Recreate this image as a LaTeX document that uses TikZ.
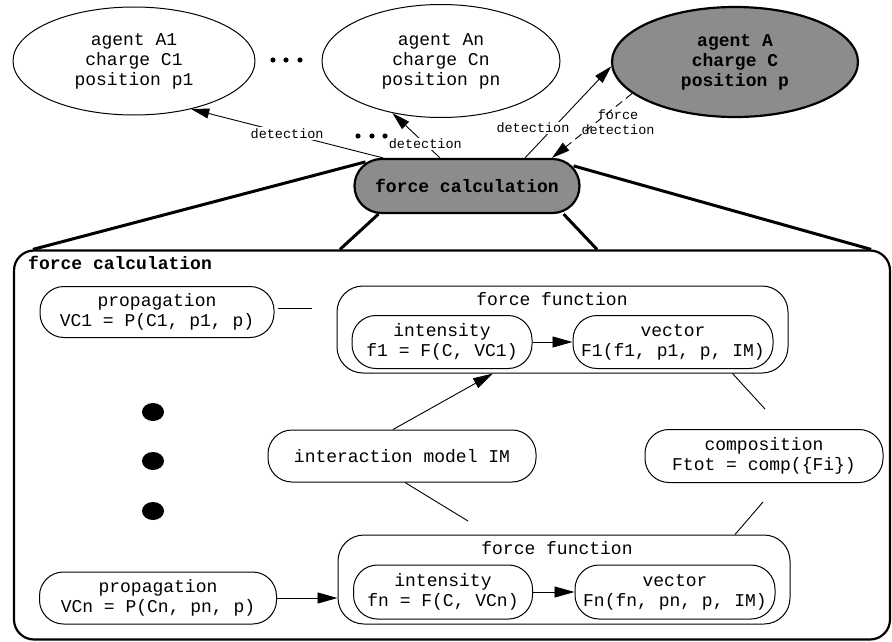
\documentclass[tikz,border=0pt]{standalone}
\usepackage{fontspec}
\newfontfamily\cour{Liberation Mono}
\usetikzlibrary{shapes.geometric,arrows.meta,calc}
\begin{document}
\begin{tikzpicture}[x=1pt,y=-1pt,
  every node/.style={font=\cour\fontsize{18}{20}\selectfont, align=center, inner sep=0pt},
  rbox/.style={draw, line width=1pt, rounded corners=24pt, minimum height=52pt},
  fbox/.style={draw, line width=1pt, rounded corners=26pt},
  agent/.style={draw, ellipse, line width=1pt},
  darkfill/.style={draw, line width=2.2pt, fill=black!45, font=\cour\bfseries\fontsize{18}{20}\selectfont},
  lbl/.style={font=\cour\fontsize{13.5}{15}\selectfont, inner sep=1.5pt},
  arr/.style={-{Triangle[length=18pt,width=10pt]}, line width=0.9pt},
  iarr/.style={-{Triangle[length=20pt,width=11pt]}, line width=0.9pt},
  thin/.style={line width=0.9pt},
  thickline/.style={line width=3pt},
  bigdot/.style={fill=black}
]
\useasboundingbox (0,0) rectangle (892,642);

% big box
\node[draw, line width=2.2pt, rounded corners=20pt, minimum width=876pt, minimum height=389pt] (big) at (452,445) {};
\node[anchor=west, font=\cour\bfseries\fontsize{18}{20}\selectfont] (bigl) at (28,263) {force calculation};

% top agents
\node[agent, minimum width=242pt, minimum height=108pt] (A1) at (134,61) {agent A1\\charge C1\\position p1};
\node[agent, minimum width=238pt, minimum height=113pt] (An) at (441,61) {agent An\\charge Cn\\position pn};
\node[darkfill, ellipse, minimum width=246pt, minimum height=110pt] (A) at (735,62) {agent A\\charge C\\position p};

% force calculation (collapsed)
\node[darkfill, rounded corners=27pt, minimum width=225pt, minimum height=54pt] (fc) at (467,186) {force calculation};

% small dots
\foreach \x in {273,286,300} \fill (\x,60) circle (2.6pt);
\foreach \x in {358,372,385} \fill (\x,136) circle (2.6pt);

% thick zoom lines
\draw[thickline] ([xshift=12pt,yshift=-4pt]fc.north west) -- ([xshift=20pt]big.north west);
\draw[thickline] ([xshift=-7pt,yshift=-8pt]fc.north east) -- ([xshift=-20pt]big.north east);
\draw[thickline] ([xshift=25pt]fc.south west) -- ([xshift=-112pt]big.north);
\draw[thickline] ([xshift=-17pt]fc.south east) -- ([xshift=145pt]big.north);

% detection arrows
\draw[arr] ([xshift=-84pt]fc.north) -- node[lbl, fill=white, pos=0.5] {detection} (A1.-40);
\draw[arr] ([xshift=-27pt]fc.north) -- node[lbl, fill=white, pos=0.31] {detection} (An.227);
\draw[arr] ([xshift=58pt]fc.north) -- (A.182);
\node[lbl, fill=white] (dl3) at (533,128) {detection};
\draw[arr, dash pattern=on 8pt off 5pt] (A.197) -- ([xshift=85pt]fc.north);
\node[lbl, font=\cour\fontsize{13.5}{15}\selectfont] (fdl) at (618,122) {force\\detection};

% inner nodes
\node[rbox, minimum width=234pt, minimum height=51pt] (p1) at (157,312) {propagation\\VC1 = P(C1, p1, p)};
\node[fbox, minimum width=451pt, minimum height=87pt] (ff1) at (562.5,329.5) {};
\node (ff1l) at (552,299) {force function};
\node[rbox, minimum width=180pt, minimum height=53pt] (i1) at (442,342) {intensity\\f1 = F(C, VC1)};
\node[rbox, minimum width=200pt, minimum height=53pt] (v1) at (673,342) {vector\\F1(f1, p1, p, IM)};

\node[rbox, minimum width=268pt, minimum height=52pt] (im) at (402,456) {interaction model IM};
\node[rbox, minimum width=238pt, minimum height=53pt] (comp) at (764,456) {composition\\Ftot = comp(\{Fi\})};

\node[rbox, minimum width=237pt, minimum height=52pt] (pn) at (158,598) {propagation\\VCn = P(Cn, pn, p)};
\node[fbox, minimum width=452pt, minimum height=89pt] (ff2) at (564,579.5) {};
\node (ff2l) at (557,548) {force function};
\node[rbox, minimum width=179pt, minimum height=54pt] (in) at (443,592) {intensity\\fn = F(C, VCn)};
\node[rbox, minimum width=200pt, minimum height=54pt] (vn) at (675,592) {vector\\Fn(fn, pn, p, IM)};

% big dots
\foreach \y in {412,461,511} \fill (153,\y) ellipse (11pt and 9pt);

% inner connectors
\coordinate (s1) at (312,308);
\coordinate (s2) at (765,409);
\coordinate (s3) at (468,521);
\coordinate (s4) at (763,502);
\draw[thin] ([xshift=3pt,yshift=4pt]p1.east) -- (s1);
\draw[iarr] (i1.east) -- (v1.west);
\draw[iarr] ([xshift=-9pt]im.north) -- ([xshift=-69.5pt]ff1.south);
\draw[thin] ([xshift=170pt]ff1.south) -- (s2);
\draw[thin] ([xshift=3pt]im.south) -- (s3);
\draw[thin] (s4) -- ([xshift=171pt]ff2.north);
\draw[iarr] (pn.east) -- (pn.east -| ff2.west);
\draw[iarr] (in.east) -- (vn.west);
\end{tikzpicture}
\end{document}
